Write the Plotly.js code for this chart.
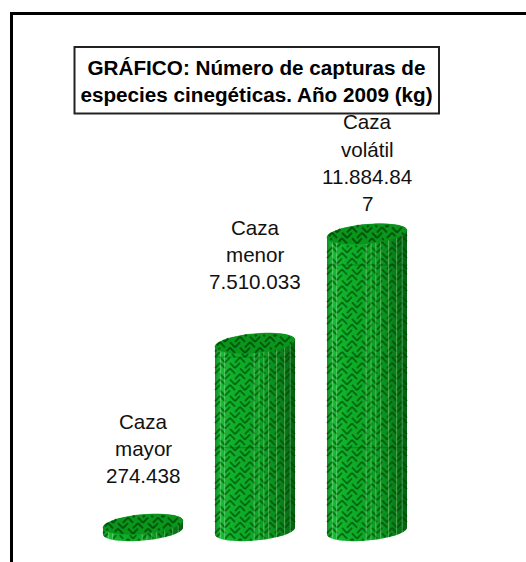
<!DOCTYPE html>
<html><head><meta charset="utf-8">
<script src="https://cdn.plot.ly/plotly-3.0.1.min.js"></script>
<style>html,body{margin:0;padding:0;background:#fff}#c{width:526px;height:562px}</style>
</head><body><div id="c"></div>
<script>
const categories = ["Caza mayor", "Caza menor", "Caza volátil"];
const values = [274438, 7510033, 11884847];
const labelLines = [["Caza","mayor","274.438"],["Caza","menor","7.510.033"],["Caza","volátil","11.884.84","7"]];
const gridValues = [3330000, 6960000, 10640000];
const titleText = "<b>GRÁFICO: Número de capturas de<br>especies cinegéticas. Año 2009 (kg)</b>";

const W = 526, H = 562;
const baseY = 531, pxPerUnit = 25/1e6;
const catPx = 112, cat0 = 143;
const xr = [ -cat0/catPx, (W-cat0)/catPx ];
const yr = [ -(H-baseY)/pxPerUnit, baseY/pxPerUnit ];
const rx = 40/catPx, ryA = 9.6/pxPerUnit, ryB = 3.4/pxPerUnit;
const U = 1/pxPerUnit, XU = 1/catPx;

const N = 48;
function ell(c,v,a,b){ const xs=[],ys=[]; for(let i=0;i<=N;i++){const t=a+(b-a)*i/N; xs.push(c+rx*Math.cos(t)); ys.push(v+ryA*Math.sin(t)+ryB*Math.cos(t));} return [xs,ys]; }
const arc = (dx,sign)=>{ const t=Math.acos(Math.max(-1,Math.min(1,dx/rx))); return sign*ryA*Math.sin(t)+ryB*Math.cos(t); };

function twill(c,lo,hi,yMin,yMax){
  const xs=[],ys=[]; const col=5, row=5.5, amp=2.6;
  let r=0;
  for(let yp=yMin/U-4; yp<=yMax/U+8; yp+=row, r++){
    for(let k=-9;k<=8;k++){
      if(((k%3)+3)%3===((r%3)+3)%3) continue;
      const odd=((k%2)+2)%2===1;
      const xa=k*col, xb=(k+1)*col;
      const ya=yp+(odd?amp:-amp), yb=yp+(odd?-amp:amp);
      const pts=[];
      for(let s=0;s<=3;s++){const px=xa+(xb-xa)*s/3, py=ya+(yb-ya)*s/3;
        const dx=px*XU; if(Math.abs(dx)>=rx) continue;
        const dy=py*U; if(dy<lo(dx)||dy>hi(dx)) continue;
        pts.push([c+dx,dy]);}
      if(pts.length>1){pts.forEach(p=>{xs.push(p[0]);ys.push(p[1]);}); xs.push(null);ys.push(null);}
    }
  }
  return [xs,ys];
}

const traces = [];
const colorscale = [[0,"#0f8a20"],[0.06,"#16bd32"],[0.25,"#0fae2a"],[0.55,"#0ca524"],[0.8,"#098a1b"],[1,"#04600f"]];
values.forEach((v,c)=>{
  const [xb,yb] = ell(c,0,Math.PI,2*Math.PI);
  const [xt,yt] = ell(c,v,0,Math.PI);
  traces.push({type:"scatter",mode:"none",x:xb.concat(xt),y:yb.concat(yt),fill:"toself",hoverinfo:"skip",showlegend:false,
    fillgradient:{type:"horizontal",colorscale:colorscale}});
  const [tx,ty] = twill(c,dx=>arc(dx,-1),dx=>v+arc(dx,-1),-12*U,v+12*U);
  traces.push({type:"scatter",mode:"lines",x:tx,y:ty,connectgaps:false,line:{color:"rgba(0,65,5,0.6)",width:1.9},hoverinfo:"skip",showlegend:false});
  [0.07,0.12,0.49,0.55,0.61,0.67,0.77,0.87,0.94].forEach(f=>{
    const dx = -rx + 2*rx*f, off = arc(dx,-1);
    traces.push({type:"scatter",mode:"lines",x:[c+dx,c+dx],y:[off,v+off],line:{color:"rgba(185,235,185,0.4)",width:1},hoverinfo:"skip",showlegend:false});
  });
  gridValues.forEach(g=>{ if(g<v-4e5) traces.push({type:"scatter",mode:"lines",x:[c-rx,c+rx*1.02],y:[g,g],line:{color:"rgba(0,30,0,0.28)",width:1},hoverinfo:"skip",showlegend:false}); });
  const [xc,yc] = ell(c,v,0,2*Math.PI);
  traces.push({type:"scatter",mode:"lines",x:xc,y:yc,fill:"toself",line:{color:"#0a8a1a",width:0.5},hoverinfo:"skip",showlegend:false,fillcolor:"#0a961c"});
  const [cx,cy] = twill(c,dx=>v+arc(dx,-1),dx=>v+arc(dx,1),v-14*U,v+14*U);
  traces.push({type:"scatter",mode:"lines",x:cx,y:cy,connectgaps:false,line:{color:"rgba(0,65,5,0.72)",width:1.9},hoverinfo:"skip",showlegend:false});
});

const annotations = [];
labelLines.forEach((lines,c)=>{
  const top = [421,227,122][c];
  lines.forEach((s,i)=>{
    annotations.push({xref:"x",yref:"paper",x:c,y:1-(top+i*27)/H,text:s,showarrow:false,xanchor:"center",yanchor:"middle",
      font:{family:"Liberation Sans, Arial, sans-serif",size:20.6,color:"#111"}});
  });
});

const layout = {
  width:W,height:H,margin:{l:0,r:0,t:0,b:0},paper_bgcolor:"#fff",plot_bgcolor:"#fff",showlegend:false,
  title:{text:titleText,x:256.5/W,xanchor:"center",y:1-75/H,yanchor:"middle",font:{family:"Liberation Sans, Arial, sans-serif",size:20.7,color:"#000"}},
  xaxis:{range:xr,visible:false,fixedrange:true},
  yaxis:{range:yr,visible:false,fixedrange:true},
  annotations:annotations,
  shapes:[
    {type:"line",xref:"paper",yref:"paper",x0:10/W,x1:1,y0:1-13.5/H,y1:1-13.5/H,line:{color:"#000",width:3}},
    {type:"line",xref:"paper",yref:"paper",x0:11.5/W,x1:11.5/W,y0:1-12/H,y1:0,line:{color:"#000",width:3}},
    {type:"rect",xref:"paper",yref:"paper",x0:74.5/W,x1:439/W,y0:1-47/H,y1:1-113.5/H,line:{color:"#222",width:2},layer:"above"}
  ]
};
Plotly.newPlot("c",traces,layout,{staticPlot:true,displayModeBar:false});
</script></body></html>
